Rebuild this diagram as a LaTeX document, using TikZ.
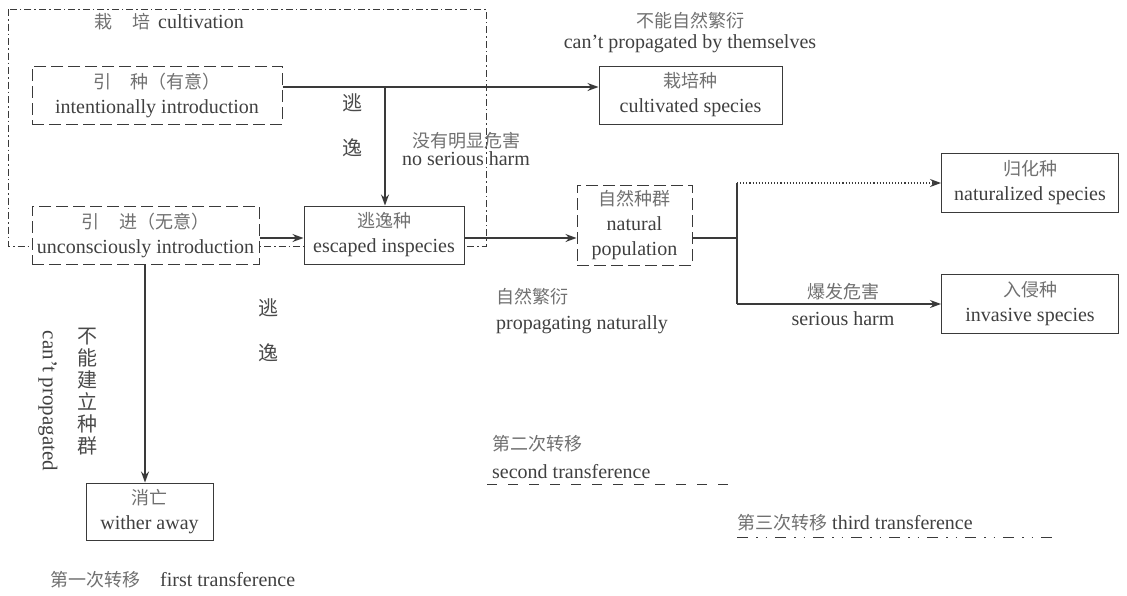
\documentclass[tikz,border=0pt]{standalone}
\usepackage{fontspec}
\setmainfont{Liberation Serif}
\newfontfamily\cjkfont{Noto Sans CJK SC}
\usetikzlibrary{arrows.meta}
\definecolor{ln}{HTML}{3A3A3A}
\definecolor{tx}{HTML}{404040}
\definecolor{zt}{HTML}{707070}
\definecolor{zd}{HTML}{4A4A4A}
\newcommand{\zhf}[1]{{\cjkfont\fontsize{18}{24}\selectfont\color{zt}#1}}
\newcommand{\zhd}[1]{{\cjkfont\fontsize{20}{24}\selectfont\color{zd}#1}}
\begin{document}
\begin{tikzpicture}[x=1pt,y=-1pt,
  every node/.style={font=\fontsize{20}{25}\selectfont, text=tx},
  box/.style={draw=ln, line width=1pt, fill=white, align=center, inner sep=0pt},
  dbox/.style={box, dash pattern=on 12pt off 5pt},
  conn/.style={draw=ln, line width=1.1pt},
  arr/.style={conn, -{Stealth[length=11pt,width=8pt]}},
  lab/.style={align=center, inner sep=0pt},
  ]
\useasboundingbox (0,0) rectangle (1127,595);

% cultivation frame
\draw[ln, line width=0.9pt, dash pattern=on 7pt off 3pt on 1.5pt off 3pt] (8,9) rectangle (486,246);
\node[lab, anchor=west] (cultlab) at (94,22) {\zhf{栽\hspace{20pt}培}\hspace{3pt} cultivation};

% boxes
\node[dbox, minimum width=250pt, minimum height=58pt] (intent) at (157,95)
  {\zhf{引\hspace{20pt}种（有意）}\\intentionally introduction};
\node[dbox, minimum width=227pt, minimum height=58pt] (uncon) at (145.5,235)
  {\zhf{引\hspace{20pt}进（无意）}\\unconsciously introduction};
\node[box, minimum width=160pt, minimum height=58pt] (esc) at (384,235)
  {\zhf{逃逸种}\\escaped inspecies};
\node[box, minimum width=183pt, minimum height=58pt] (cult) at (690.5,95)
  {\zhf{栽培种}\\cultivated species};
\node[dbox, minimum width=115pt, minimum height=80pt] (nat) at (634.5,225)
  {\zhf{自然种群}\\natural\\population};
\node[box, minimum width=177pt, minimum height=59pt] (natu) at (1030,183)
  {\zhf{归化种}\\naturalized species};
\node[box, minimum width=177pt, minimum height=59pt] (inv) at (1030,304)
  {\zhf{入侵种}\\invasive species};
\node[box, minimum width=127pt, minimum height=57pt] (with) at (149.5,511.5)
  {\zhf{消亡}\\wither away};

% helper coordinates
\coordinate (yA) at (0,87);
\coordinate (yB) at (0,238);
\coordinate (jA) at (385,87);
\coordinate (sp) at (737,238);

% connectors
\draw[conn] (intent.east |- yA) -- (jA);
\draw[arr] (jA) -- (cult.west |- yA);
\draw[arr] (jA) -- (esc.north -| jA);
\draw[arr] (uncon.east |- yB) -- (esc.west |- yB);
\draw[arr] (esc.east |- yB) -- (nat.west |- yB);
\draw[conn] (nat.east |- yB) -- (sp);
\draw[conn] (natu.west -| sp) -- (inv.west -| sp);
\draw[arr, dotted] (natu.west -| sp) -- (natu.west);
\draw[arr] (inv.west -| sp) -- (inv.west);
\draw[arr] (uncon.south -| 145,0) -- (with.north -| 145,0);

% labels
\node[lab] (t1) at (352,103) {\zhd{逃}};
\node[lab] (t2) at (352,148) {\zhd{逸}};
\node[lab, font=\fontsize{20}{18}\selectfont] (nsh) at (466,149) {\zhf{没有明显危害}\\no serious harm};
\node[lab, font=\fontsize{20}{21}\selectfont] (cpt) at (690,33) {\zhf{不能自然繁衍}\\can't propagated by themselves};
\node[lab, anchor=west, align=left, font=\fontsize{20}{26}\selectfont] (pn) at (496,311) {\zhf{自然繁衍}\\propagating naturally};
\node[lab, font=\fontsize{20}{27}\selectfont] (sh) at (843,304) {\zhf{爆发危害}\\serious harm};
\node[lab] (t3) at (268,308) {\zhd{逃}};
\node[lab] (t4) at (268,353) {\zhd{逸}};
\node[lab, font=\cjkfont\fontsize{20}{22}\selectfont, text=zd] (cne) at (87,392) {不\\能\\建\\立\\种\\群};
\node[lab, rotate=-90, font=\fontsize{21}{21}\selectfont] (cp) at (48,401) {can't propagated};

% legend
\node[lab, anchor=west] (l1) at (50,580) {\zhf{第一次转移}\hspace{20pt}first transference};
\node[lab, anchor=west, align=left, font=\fontsize{20}{28}\selectfont] (l2) at (492,457) {\zhf{第二次转移}\\second transference};
\coordinate (l2a) at (487,484);
\coordinate (l2b) at (733,484);
\draw[ln, line width=1pt, dash pattern=on 10pt off 11pt] (l2a) -- (l2b);
\node[lab, anchor=west] (l3) at (737,523) {\zhf{第三次转移} third transference};
\coordinate (l3a) at (737,537);
\coordinate (l3b) at (1052,537);
\draw[ln, line width=1pt, dash pattern=on 11pt off 8pt on 1.5pt off 8pt on 1.5pt off 8pt] (l3a) -- (l3b);
\end{tikzpicture}
\end{document}
